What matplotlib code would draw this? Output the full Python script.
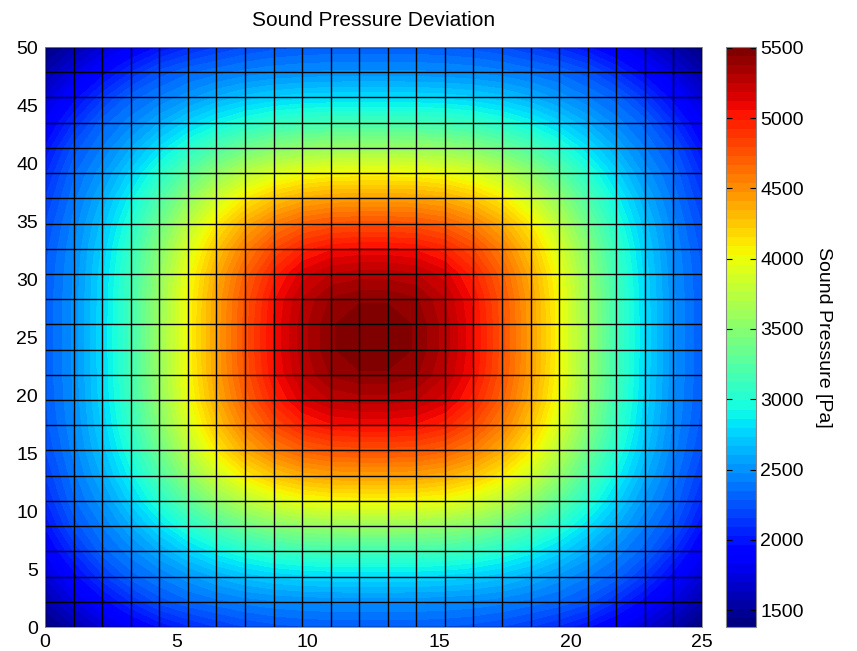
import numpy as np
import matplotlib
matplotlib.use('Agg')
import matplotlib.pyplot as plt
from matplotlib.colors import Normalize
from matplotlib.cm import ScalarMappable

plt.rcParams['font.family'] = ['Liberation Sans', 'DejaVu Sans']

# grid nodes of the surface (24 x 24)
x_nodes = np.linspace(0, 25, 24)
y_nodes = np.linspace(0, 50, 24)

# sound pressure at each node [Pa], rows go from y=0 (bottom) to y=50 (top)
pressure = np.array([
    [1400,1562,1714,1848,1967,2072,2153,2215,2255,2277,2287,2290,2290,2287,2277,2255,2215,2153,2072,1967,1848,1714,1562,1400],
    [1562,1747,1922,2089,2242,2332,2384,2432,2463,2480,2488,2490,2490,2488,2480,2463,2432,2384,2332,2242,2089,1922,1747,1562],
    [1714,1922,2131,2313,2413,2514,2613,2691,2743,2773,2786,2790,2790,2786,2773,2743,2691,2613,2514,2413,2313,2131,1922,1714],
    [1848,2089,2313,2445,2602,2756,2892,2999,3079,3124,3144,3150,3150,3144,3124,3079,2999,2892,2756,2602,2445,2313,2089,1848],
    [1967,2242,2413,2602,2808,3014,3203,3358,3475,3542,3572,3580,3580,3572,3542,3475,3358,3203,3014,2808,2602,2413,2242,1967],
    [2072,2332,2514,2756,3014,3283,3533,3740,3889,3979,4019,4030,4030,4019,3979,3889,3740,3533,3283,3014,2756,2514,2332,2072],
    [2153,2384,2613,2892,3203,3533,3839,4088,4256,4360,4407,4420,4420,4407,4360,4256,4088,3839,3533,3203,2892,2613,2384,2153],
    [2215,2432,2691,2999,3358,3740,4088,4359,4557,4684,4744,4759,4759,4744,4684,4557,4359,4088,3740,3358,2999,2691,2432,2215],
    [2255,2463,2743,3079,3475,3889,4256,4557,4791,4953,5037,5059,5059,5037,4953,4791,4557,4256,3889,3475,3079,2743,2463,2255],
    [2277,2480,2773,3124,3542,3979,4360,4684,4953,5148,5250,5279,5279,5250,5148,4953,4684,4360,3979,3542,3124,2773,2480,2277],
    [2287,2488,2786,3144,3572,4019,4407,4744,5037,5250,5383,5428,5428,5383,5250,5037,4744,4407,4019,3572,3144,2786,2488,2287],
    [2290,2490,2790,3150,3580,4030,4420,4759,5059,5279,5428,5500,5500,5428,5279,5059,4759,4420,4030,3580,3150,2790,2490,2290],
    [2290,2490,2790,3150,3580,4030,4420,4759,5059,5279,5428,5500,5500,5428,5279,5059,4759,4420,4030,3580,3150,2790,2490,2290],
    [2287,2488,2786,3144,3572,4019,4407,4744,5037,5250,5383,5428,5428,5383,5250,5037,4744,4407,4019,3572,3144,2786,2488,2287],
    [2277,2480,2773,3124,3542,3979,4360,4684,4953,5148,5250,5279,5279,5250,5148,4953,4684,4360,3979,3542,3124,2773,2480,2277],
    [2255,2463,2743,3079,3475,3889,4256,4557,4791,4953,5037,5059,5059,5037,4953,4791,4557,4256,3889,3475,3079,2743,2463,2255],
    [2215,2432,2691,2999,3358,3740,4088,4359,4557,4684,4744,4759,4759,4744,4684,4557,4359,4088,3740,3358,2999,2691,2432,2215],
    [2153,2384,2613,2892,3203,3533,3839,4088,4256,4360,4407,4420,4420,4407,4360,4256,4088,3839,3533,3203,2892,2613,2384,2153],
    [2072,2332,2514,2756,3014,3283,3533,3740,3889,3979,4019,4030,4030,4019,3979,3889,3740,3533,3283,3014,2756,2514,2332,2072],
    [1967,2242,2413,2602,2808,3014,3203,3358,3475,3542,3572,3580,3580,3572,3542,3475,3358,3203,3014,2808,2602,2413,2242,1967],
    [1848,2089,2313,2445,2602,2756,2892,2999,3079,3124,3144,3150,3150,3144,3124,3079,2999,2892,2756,2602,2445,2313,2089,1848],
    [1714,1922,2131,2313,2413,2514,2613,2691,2743,2773,2786,2790,2790,2786,2773,2743,2691,2613,2514,2413,2313,2131,1922,1714],
    [1562,1747,1922,2089,2242,2332,2384,2432,2463,2480,2488,2490,2490,2488,2480,2463,2432,2384,2332,2242,2089,1922,1747,1562],
    [1400,1562,1714,1848,1967,2072,2153,2215,2255,2277,2287,2290,2290,2287,2277,2255,2215,2153,2072,1967,1848,1714,1562,1400],
])

c_min, c_max = 1380, 5505
x_ticks = [0, 5, 10, 15, 20, 25]
y_ticks = [0, 5, 10, 15, 20, 25, 30, 35, 40, 45, 50]
cbar_ticks = [1500, 2000, 2500, 3000, 3500, 4000, 4500, 5000, 5500]

W, H = 857, 651
fig = plt.figure(figsize=(W / 100, H / 100), dpi=100)
ax = fig.add_axes([45 / W, 24 / H, 657 / W, 580 / H])

cmap = plt.get_cmap('jet', 64)
norm = Normalize(c_min, c_max)
X, Y = np.meshgrid(x_nodes, y_nodes)
# 64 bands like the matlab colormap
ax.contourf(X, Y, pressure, levels=np.linspace(c_min, c_max, 65),
            cmap=cmap, norm=norm, extend='both')

# faceted edges
for xv in x_nodes:
    ax.axvline(xv, color='k', lw=1.0)
for yv in y_nodes:
    ax.axhline(yv, color='k', lw=1.0)

ax.set_xlim(0, 25)
ax.set_ylim(0, 50)
ax.set_xticks(x_ticks)
ax.set_yticks(y_ticks)
ax.tick_params(length=0, pad=5, labelsize=14)
for s in ax.spines.values():
    s.set_color('#888888')
    s.set_linewidth(0.6)
ax.set_title('Sound Pressure Deviation', fontsize=15, pad=15)

cax = fig.add_axes([726 / W, 24 / H, 30 / W, 580 / H])
cb = fig.colorbar(ScalarMappable(norm=norm, cmap=cmap), cax=cax)
cb.set_ticks(cbar_ticks)
cax.tick_params(direction='in', left=True, right=True, length=4,
                width=0.8, labelsize=14, pad=3)
cb.outline.set_edgecolor('#888888')
cb.set_label('Sound Pressure [Pa]', rotation=270, fontsize=14, labelpad=20)

fig.savefig('out.png', dpi=100)
